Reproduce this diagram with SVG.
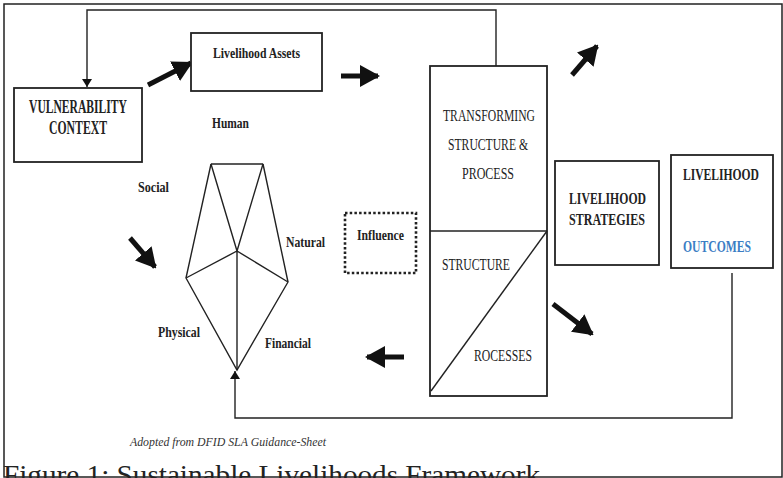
<svg xmlns="http://www.w3.org/2000/svg" width="783" height="478" viewBox="0 0 783 478">
<defs>
<style>
.box{fill:#fff;stroke:#222;stroke-width:1.8}
.ln{fill:none;stroke:#222;stroke-width:1.4}
.thick{fill:none;stroke:#111;stroke-width:5}
.b{font-family:"Liberation Serif","Times New Roman",serif;font-weight:bold;fill:#222}
.r{font-family:"Liberation Serif","Times New Roman",serif;fill:#222}
</style>
<marker id="big" markerUnits="userSpaceOnUse" viewBox="0 0 20 22" refX="18" refY="11" markerWidth="20" markerHeight="22" orient="auto">
<path d="M0,0 L20,11 L0,22 Z" fill="#111"/>
</marker>
<marker id="small" markerUnits="userSpaceOnUse" viewBox="0 0 8 10" refX="8" refY="5" markerWidth="8" markerHeight="10" orient="auto">
<path d="M0,0 L8,5 L0,10 Z" fill="#111"/>
</marker>
</defs>
<rect x="0" y="0" width="783" height="478" fill="#fff"/>
<rect x="4" y="4" width="778" height="473" fill="none" stroke="#222" stroke-width="1.5"/>

<g id="connectors">
<polyline class="ln" points="496,66 496,10 87,10 87,87" marker-end="url(#small)"/>
<polyline class="ln" points="732,273 732,418 235,418 235,371" marker-end="url(#small)"/>
<line class="thick" x1="148" y1="85" x2="191" y2="63" marker-end="url(#big)"/>
<line class="thick" x1="341" y1="76" x2="378" y2="76" marker-end="url(#big)"/>
<line class="thick" x1="572" y1="75" x2="597" y2="46" marker-end="url(#big)"/>
<line class="thick" x1="553" y1="304" x2="592" y2="334" marker-end="url(#big)"/>
<line class="thick" x1="404" y1="357" x2="367" y2="357" marker-end="url(#big)"/>
<line class="thick" x1="130" y1="238" x2="155" y2="267" marker-end="url(#big)"/>
</g>

<g id="vulnerability">
<rect class="box" x="14" y="88" width="128" height="74" stroke-width="2.2"/>
<text class="b" x="29" y="113" font-size="18" textLength="98" lengthAdjust="spacingAndGlyphs">VULNERABILITY</text>
<text class="b" x="49" y="134" font-size="18" textLength="58" lengthAdjust="spacingAndGlyphs">CONTEXT</text>
</g>

<g id="assets">
<rect class="box" x="191" y="33" width="131" height="58"/>
<text class="b" x="213" y="58" font-size="15" textLength="87" lengthAdjust="spacingAndGlyphs">Livelihood Assets</text>
</g>

<g id="pentagon">
<polyline class="ln" points="211,164 263,164"/>
<polyline class="ln" points="211,164 186,278 237,370 288,282 263,164"/>
<polyline class="ln" points="211,164 237,251 263,164"/>
<polyline class="ln" points="186,278 237,251 288,282"/>
<line class="ln" x1="237" y1="251" x2="237" y2="370"/>
<text class="b" x="212" y="128" font-size="15" textLength="37" lengthAdjust="spacingAndGlyphs">Human</text>
<text class="b" x="138" y="192" font-size="15" textLength="31" lengthAdjust="spacingAndGlyphs">Social</text>
<text class="b" x="286" y="247" font-size="15" textLength="39" lengthAdjust="spacingAndGlyphs">Natural</text>
<text class="b" x="158" y="337" font-size="15" textLength="42" lengthAdjust="spacingAndGlyphs">Physical</text>
<text class="b" x="265" y="348" font-size="15" textLength="46" lengthAdjust="spacingAndGlyphs">Financial</text>
</g>

<g id="influence">
<rect x="345" y="213" width="71" height="60" fill="none" stroke="#222" stroke-width="2.6" stroke-dasharray="2.5 2.2"/>
<text class="b" x="357" y="240" font-size="15" textLength="47" lengthAdjust="spacingAndGlyphs">Influence</text>
</g>

<g id="transforming">
<rect class="box" x="430" y="66" width="117" height="330"/>
<line class="ln" x1="430" y1="231" x2="547" y2="231"/>
<line class="ln" x1="431" y1="391" x2="547" y2="231"/>
<text class="r" x="443" y="121" font-size="17" textLength="92" lengthAdjust="spacingAndGlyphs">TRANSFORMING</text>
<text class="r" x="448" y="150" font-size="17" textLength="80" lengthAdjust="spacingAndGlyphs">STRUCTURE &amp;</text>
<text class="r" x="462" y="179" font-size="17" textLength="52" lengthAdjust="spacingAndGlyphs">PROCESS</text>
<text class="r" x="442" y="270" font-size="17" textLength="68" lengthAdjust="spacingAndGlyphs">STRUCTURE</text>
<text class="r" x="474" y="361" font-size="17" textLength="58" lengthAdjust="spacingAndGlyphs">ROCESSES</text>
</g>

<g id="strategies">
<rect class="box" x="555" y="161" width="104" height="104"/>
<text class="b" x="569" y="204" font-size="17" textLength="77" lengthAdjust="spacingAndGlyphs">LIVELIHOOD</text>
<text class="b" x="569" y="225" font-size="17" textLength="76" lengthAdjust="spacingAndGlyphs">STRATEGIES</text>
</g>

<g id="outcomes">
<rect class="box" x="671" y="155" width="102" height="113" stroke-width="2.4"/>
<text class="b" x="721" y="180" font-size="16" text-anchor="middle" textLength="76" lengthAdjust="spacingAndGlyphs">LIVELIHOOD</text>
<text class="b" x="717" y="252" font-size="17" text-anchor="middle" textLength="68" lengthAdjust="spacingAndGlyphs" style="fill:#3b7dc4">OUTCOMES</text>
</g>

<text x="130" y="446" font-family="Liberation Serif, Times New Roman, serif" font-style="italic" font-size="13" fill="#333" textLength="196" lengthAdjust="spacingAndGlyphs">Adopted from DFID SLA Guidance-Sheet</text>
<text x="3" y="484" font-family="Liberation Serif, Times New Roman, serif" font-size="27" fill="#222" textLength="537" lengthAdjust="spacingAndGlyphs">Figure 1: Sustainable Livelihoods Framework</text>
</svg>
